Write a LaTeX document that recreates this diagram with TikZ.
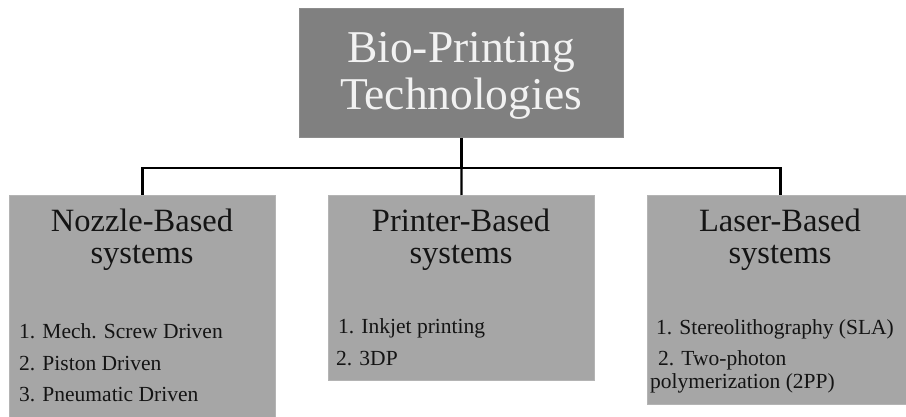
\documentclass[tikz,border=0pt]{standalone}
\usepackage{fontspec}
\usetikzlibrary{calc}
\setmainfont{Liberation Serif}
\definecolor{topgray}{HTML}{808080}
\definecolor{subgray}{HTML}{A6A6A6}
\definecolor{edgegray}{HTML}{B4B4B4}
\definecolor{toptext}{HTML}{F2F2F2}
\definecolor{bodytext}{HTML}{141414}
\begin{document}
\begin{tikzpicture}[x=1pt,y=-1pt,
  topbox/.style={draw=topgray!90!white, fill=topgray, line width=0.8pt, anchor=north west, inner sep=0pt},
  subbox/.style={draw=edgegray, fill=subgray, line width=1pt, anchor=north west, inner sep=0pt, minimum width=266pt},
  conn/.style={draw=black, line width=2.2pt},
  toptxt/.style={anchor=base, inner sep=0pt, text=toptext, font=\fontsize{45.5}{47}\selectfont},
  subtxt/.style={anchor=base, inner sep=0pt, text=bodytext, font=\fontsize{32.5}{33}\selectfont},
  itemtxt/.style={anchor=base west, inner sep=0pt, text=bodytext, font=\fontsize{21.5}{22}\selectfont}
]
\useasboundingbox (0,0) rectangle (906,417);
\clip (0,0) rectangle (906,417);
\fill[white] (0,0) rectangle (906,417);

% boxes
\node[topbox, minimum width=324pt, minimum height=129pt] (top) at (299,8) {};
\node[subbox, minimum height=240pt] (nozzle) at (9,195) {};
\node[subbox, minimum height=185pt] (printer) at (328,195) {};
\node[subbox, minimum height=209pt] (laser) at (647,195) {};

% connectors
\coordinate (bus) at ($(top.south)+(0,30)$);
\draw[conn] (top.south) -- (bus);
\draw[conn] (nozzle.north) |- (bus) -| (laser.north);
\draw[conn] (bus) -- (printer.north);

% top title
\node[toptxt] (topA) at (461,63) {Bio-Printing};
\node[toptxt] (topB) at (461,110) {Technologies};

% nozzle
\node[subtxt] (nozA) at (142,232) {Nozzle-Based};
\node[subtxt] (nozB) at (142,263) {systems};
\node[itemtxt] (noz1) at (19,338) {1. Mech. Screw Driven};
\node[itemtxt] (noz2) at (19,370) {2. Piston Driven};
\node[itemtxt] (noz3) at (19,401) {3. Pneumatic Driven};

% printer
\node[subtxt] (priA) at (461,232) {Printer-Based};
\node[subtxt] (priB) at (461,263) {systems};
\node[itemtxt] (pri1) at (338,333) {1. Inkjet printing};
\node[itemtxt] (pri2) at (336,365) {2. 3DP};

% laser
\node[subtxt] (lasA) at (780,232) {Laser-Based};
\node[subtxt] (lasB) at (780,263) {systems};
\node[itemtxt] (las1) at (656,334) {1. Stereolithography (SLA)};
\node[itemtxt] (las2) at (658,365) {2. Two-photon};
\node[itemtxt] (las3) at (650,388) {polymerization (2PP)};
\end{tikzpicture}
\end{document}
